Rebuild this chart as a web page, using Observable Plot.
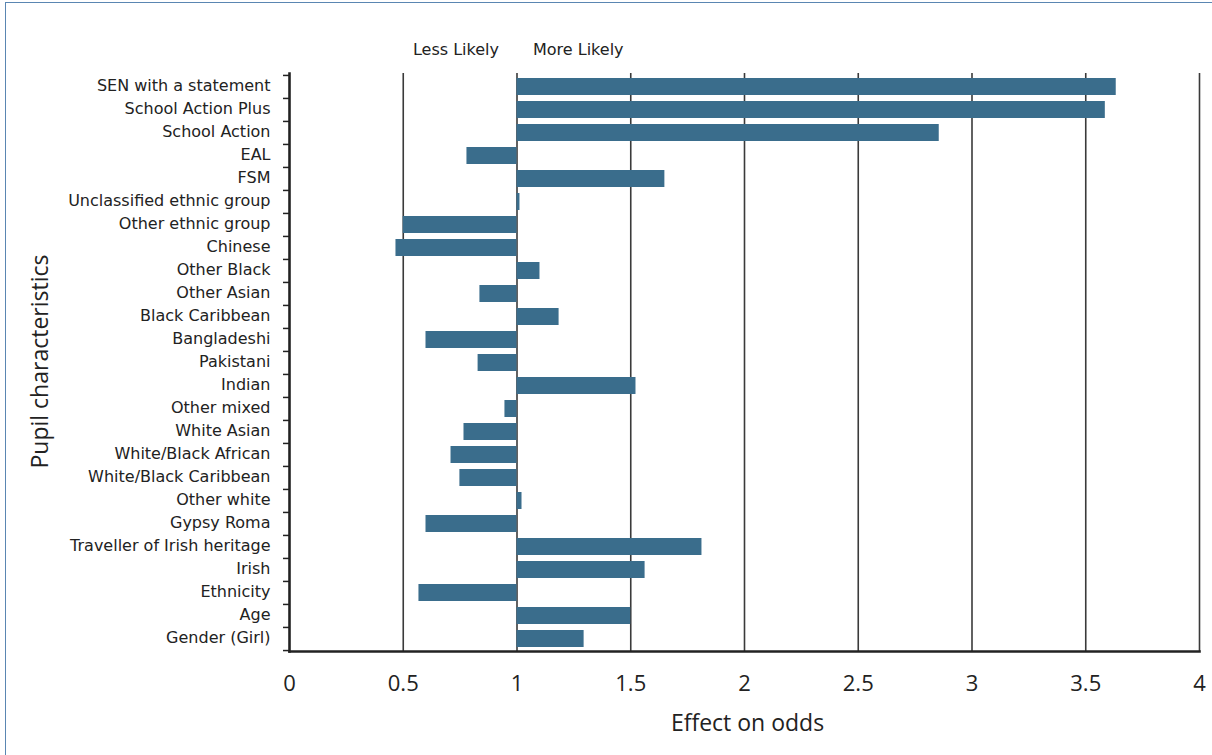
<!DOCTYPE html>
<html>
<head>
<meta charset="utf-8">
<script src="https://cdn.jsdelivr.net/npm/d3@7"></script>
<script src="https://cdn.jsdelivr.net/npm/@observablehq/plot@0.6"></script>
<style>
  html, body { margin: 0; padding: 0; background: #fff; }
  #wrap { position: relative; width: 1212px; height: 755px; overflow: hidden; }
  #border { position: absolute; left: 5px; top: 2px; width: 1230px; height: 780px; border: 1.5px solid #5a86b2; box-sizing: border-box; pointer-events: none; }
</style>
</head>
<body>
<div id="wrap"><div id="border"></div></div>
<script>
// Categories (top to bottom)
const categories = [
  "SEN with a statement", "School Action Plus", "School Action", "EAL", "FSM",
  "Unclassified ethnic group", "Other ethnic group", "Chinese", "Other Black",
  "Other Asian", "Black Caribbean", "Bangladeshi", "Pakistani", "Indian",
  "Other mixed", "White Asian", "White/Black African", "White/Black Caribbean",
  "Other white", "Gypsy Roma", "Traveller of Irish heritage", "Irish",
  "Ethnicity", "Age", "Gender (Girl)"
];
// Effect on odds
const values = [
  3.634, 3.586, 2.856, 0.78, 1.65,
  1.013, 0.50, 0.468, 1.101,
  0.837, 1.185, 0.60, 0.829, 1.523,
  0.947, 0.767, 0.71, 0.749,
  1.022, 0.60, 1.813, 1.563,
  0.569, 1.50, 1.295
];
const baseline = 1;
const xTicks = [0, 0.5, 1, 1.5, 2, 2.5, 3, 3.5, 4];
const gridTicks = [0.5, 1, 1.5, 2, 2.5, 3, 3.5, 4];
const sideLabels = ["Less Likely", "More Likely"];
const xTitle = "Effect on odds";
const yTitle = "Pupil characteristics";

const data = categories.map((c, i) => ({name: c, value: values[i]}));

const W = 1212, H = 755;
const mTop = 73, mBottom = 104, mLeft = 289, mRight = 13;
const step = (H - mTop - mBottom) / categories.length;
const labelFont = "'DejaVu Sans', Verdana, sans-serif";
const axisFont = "'Open Sans', 'Noto Sans', sans-serif";

const chart = Plot.plot({
  width: W,
  height: H,
  marginTop: mTop,
  marginBottom: mBottom,
  marginLeft: mLeft,
  marginRight: mRight,
  style: {background: "transparent", overflow: "visible"},
  x: {domain: [0, 4], axis: null},
  y: {domain: categories, paddingInner: 0.28, paddingOuter: 0.14, axis: null},
  marks: [
    Plot.gridX(gridTicks, {stroke: "#3a3a3a", strokeOpacity: 1, strokeWidth: 1.6}),
    Plot.barX(data, {x1: baseline, x2: "value", y: "name", fill: "#3a6d8c"}),
    // y tick labels
    Plot.axisY(categories, {
      tickSize: 0, tickPadding: 19, fontSize: 16, fontFamily: labelFont,
      fill: "#222", label: null, dy: -1
    }),
    // y tick marks at band boundaries
    Plot.axisY(categories, {
      tickSize: 6, text: null, dy: -step / 2, stroke: "#222", strokeWidth: 1.5, label: null
    }),
    Plot.axisY([categories[categories.length - 1]], {
      tickSize: 6, text: null, dy: step / 2, stroke: "#222", strokeWidth: 1.5, label: null
    }),
    // x tick labels
    Plot.axisX(xTicks, {
      tickSize: 0, tickPadding: 24, fontSize: 22, fontFamily: axisFont,
      fill: "#222", label: null, tickFormat: d => String(d)
    }),
    // axis lines
    Plot.frame({anchor: "left", stroke: "#222", strokeWidth: 2.6}),
    Plot.frame({anchor: "bottom", stroke: "#222", strokeWidth: 2.6}),
    // side labels
    Plot.text([sideLabels[0]], {x: baseline, frameAnchor: "top", dy: -30, dx: -18, textAnchor: "end",
      fontSize: 16, fontFamily: labelFont, fill: "#222"}),
    Plot.text([sideLabels[1]], {x: baseline, frameAnchor: "top", dy: -30, dx: 16, textAnchor: "start",
      fontSize: 16, fontFamily: labelFont, fill: "#222"}),
    // titles
    Plot.text([xTitle], {frameAnchor: "bottom", dy: 79, dx: 3, fontSize: 23, fontFamily: axisFont, fill: "#222"}),
    Plot.text([yTitle], {frameAnchor: "left", rotate: -90, dx: -249, dy: 106, fontSize: 23, fontFamily: axisFont, fill: "#222"})
  ]
});
document.getElementById("wrap").prepend(chart);
</script>
</body>
</html>
